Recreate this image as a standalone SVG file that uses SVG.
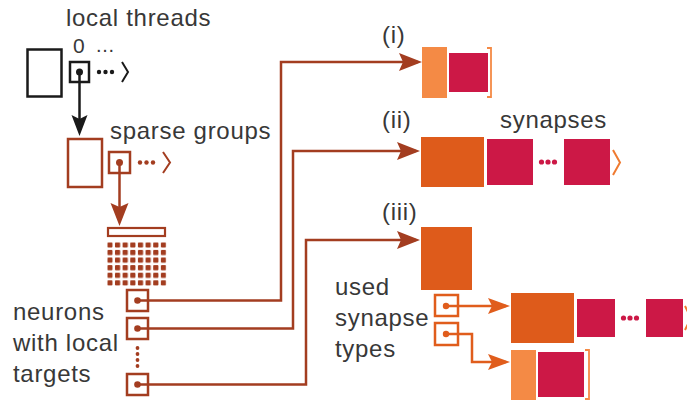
<svg xmlns="http://www.w3.org/2000/svg" width="687" height="400" viewBox="0 0 687 400">
<style>
text{font-family:"Liberation Sans",Arial,sans-serif;font-size:24px;fill:#383838;letter-spacing:0.7px}
.blk{fill:none;stroke:#1a1a1a;stroke-width:2.5}
.brn{fill:none;stroke:#a33d20;stroke-width:2.5}
.org{fill:none;stroke:#e05d1c;stroke-width:2.5}
.dorange{fill:#de5b1b}
.lorange{fill:#f48a45}
.crim{fill:#cc1846}
.brk{fill:none;stroke:#f48a45;stroke-width:1.8}
</style>
<defs>
<marker id="ahBlk" markerUnits="userSpaceOnUse" markerWidth="24" markerHeight="18" refX="17" refY="8" orient="auto" viewBox="0 0 24 18">
<path d="M0,0 L21,8 L0,16 L4,8 Z" fill="#1a1a1a"/>
</marker>
<marker id="ahBrn" markerUnits="userSpaceOnUse" markerWidth="26" markerHeight="20" refX="19" refY="9" orient="auto" viewBox="0 0 26 20">
<path d="M0,0 L23,9 L0,18 L4,9 Z" fill="#a33d20"/>
</marker>
<marker id="ahOrg" markerUnits="userSpaceOnUse" markerWidth="24" markerHeight="18" refX="18" refY="8" orient="auto" viewBox="0 0 24 18">
<path d="M0,0 L22,8 L0,16 L4,8 Z" fill="#e05d1c"/>
</marker>
<pattern id="grid" patternUnits="userSpaceOnUse" x="107.3" y="242.3" width="7.65" height="7.6">
<rect x="0" y="0" width="5.2" height="5.2" rx="0.9" fill="#a33d20"/>
</pattern>
</defs>

<g id="labels">
<text x="66" y="26">local threads</text>
<text x="73" y="53" style="font-size:21px">0</text>
<text x="96" y="52" style="font-size:20px">...</text>
<text x="110" y="139">sparse groups</text>
<text x="382" y="43">(i)</text>
<text x="382" y="128">(ii)</text>
<text x="382" y="220">(iii)</text>
<text x="500" y="128">synapses</text>
<text x="13" y="320">neurons</text>
<text x="13" y="351">with local</text>
<text x="13" y="382">targets</text>
<text x="335" y="295">used</text>
<text x="335" y="326">synapse</text>
<text x="335" y="357">types</text>
</g>

<g id="threads">
<rect class="blk" x="27.5" y="49.5" width="34" height="47"/>
<rect class="blk" x="70" y="62" width="19" height="20"/>
<circle cx="79.5" cy="72" r="3.5" fill="#1a1a1a"/>
<circle cx="99" cy="72" r="2.2" fill="#1a1a1a"/>
<circle cx="105.5" cy="72" r="2.2" fill="#1a1a1a"/>
<circle cx="112" cy="72" r="2.2" fill="#1a1a1a"/>
<path class="blk" style="stroke-width:2" d="M122,62 L128,72 L122,82"/>
</g>

<g id="sparse-groups">
<rect class="brn" x="68" y="139" width="34" height="48"/>
<rect class="brn" x="109" y="152" width="21" height="21"/>
<circle cx="119.5" cy="162.5" r="3.5" fill="#a33d20"/>
<circle cx="140" cy="162.5" r="2.2" fill="#a33d20"/>
<circle cx="146.5" cy="162.5" r="2.2" fill="#a33d20"/>
<circle cx="153" cy="162.5" r="2.2" fill="#a33d20"/>
<path class="brn" style="stroke-width:2" d="M163,152 L170,162.5 L163,173"/>
</g>

<g id="neuron-block">
<rect class="brn" style="stroke-width:2.2" x="108" y="228" width="57" height="8"/>
<rect x="107.3" y="242.3" width="59" height="43.5" fill="url(#grid)"/>
</g>

<g id="neurons">
<rect class="brn" x="127" y="290" width="21" height="21"/>
<circle cx="137.5" cy="300.5" r="3.3" fill="#a33d20"/>
<rect class="brn" x="127" y="318" width="21" height="21"/>
<circle cx="137.5" cy="328.5" r="3.3" fill="#a33d20"/>
<circle cx="137.5" cy="348" r="1.9" fill="#a33d20"/>
<circle cx="137.5" cy="354" r="1.9" fill="#a33d20"/>
<circle cx="137.5" cy="360" r="1.9" fill="#a33d20"/>
<circle cx="137.5" cy="366" r="1.9" fill="#a33d20"/>
<rect class="brn" x="127" y="374" width="21" height="21"/>
<circle cx="137.5" cy="384.5" r="3.3" fill="#a33d20"/>
</g>

<g id="row-i">
<rect class="lorange" x="422" y="47" width="25" height="51"/>
<rect class="crim" x="449" y="53" width="39" height="39"/>
<path class="brk" d="M487,48 H491 V97 H487"/>
</g>

<g id="row-ii">
<rect class="dorange" x="421" y="137" width="63" height="50"/>
<rect class="crim" x="487" y="139" width="46" height="46"/>
<circle cx="541.5" cy="162" r="2.6" fill="#cc1846"/>
<circle cx="548" cy="162" r="2.6" fill="#cc1846"/>
<circle cx="554.5" cy="162" r="2.6" fill="#cc1846"/>
<rect class="crim" x="564" y="139" width="46" height="46"/>
<path fill="none" stroke="#ef7a30" stroke-width="2" d="M613,150 L620,162.5 L613,175"/>
</g>

<g id="row-iii">
<rect class="dorange" x="421" y="227" width="51" height="63"/>
</g>

<g id="synapse-types">
<rect class="org" x="435" y="295" width="23" height="21"/>
<circle cx="446" cy="306" r="3.2" fill="#e05d1c"/>
<rect class="org" x="435" y="323" width="23" height="22"/>
<circle cx="446" cy="334" r="3.2" fill="#e05d1c"/>
</g>

<g id="row-a">
<rect class="dorange" x="511" y="293" width="63" height="50"/>
<rect class="crim" x="577" y="299" width="38" height="38"/>
<circle cx="623.5" cy="318" r="2.6" fill="#cc1846"/>
<circle cx="630" cy="318" r="2.6" fill="#cc1846"/>
<circle cx="636.5" cy="318" r="2.6" fill="#cc1846"/>
<rect class="crim" x="646" y="299" width="37" height="38"/>
<path fill="none" stroke="#ef7a30" stroke-width="2" d="M685,306 L691,318 L685,330"/>
</g>

<g id="row-b">
<rect class="lorange" x="511" y="350" width="25" height="52"/>
<rect class="crim" x="538" y="352" width="46" height="45"/>
<path class="brk" d="M585,350 H589 V399 H585"/>
</g>

<g id="connectors">
<path class="blk" d="M79.5,72 V132" marker-end="url(#ahBlk)"/>
<path class="brn" d="M119.5,162.5 V222" marker-end="url(#ahBrn)"/>
<path class="brn" d="M137.5,300.5 H281 V62 H418" marker-end="url(#ahBrn)"/>
<path class="brn" d="M137.5,328.5 H293 V151 H416" marker-end="url(#ahBrn)"/>
<path class="brn" d="M137.5,384.5 H306 V240 H416" marker-end="url(#ahBrn)"/>
<path class="org" d="M446,306 H506" marker-end="url(#ahOrg)"/>
<path class="org" d="M446,334 H472 V362 H506" marker-end="url(#ahOrg)"/>
</g>
</svg>
